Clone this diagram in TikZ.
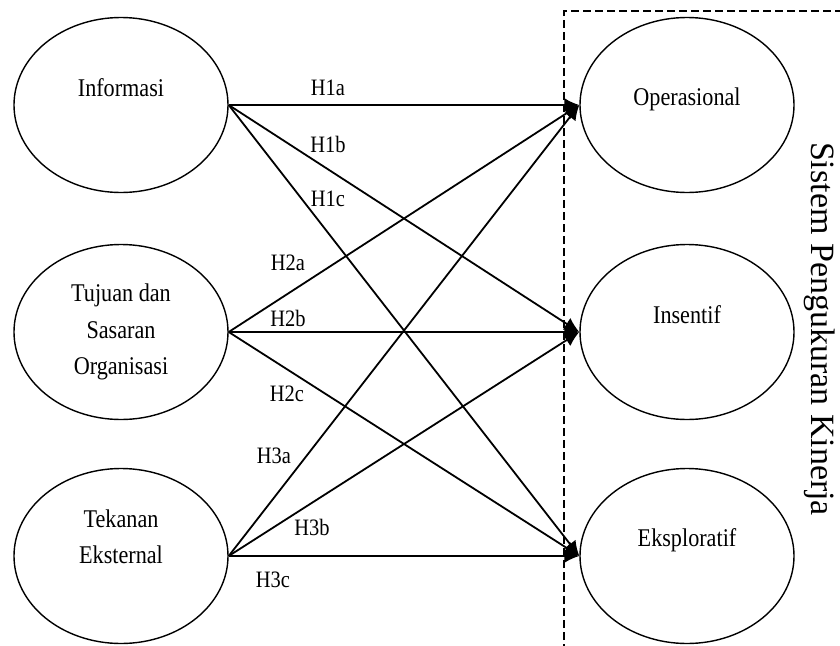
\documentclass[tikz,border=0pt]{standalone}
\usepackage{fontspec}
\setmainfont{Liberation Serif}
\newfontfamily\condfont[FakeStretch=0.87]{Liberation Serif}
\usetikzlibrary{shapes.geometric,arrows.meta}
\begin{document}
\begin{tikzpicture}[x=1pt,y=-1pt,
  oval/.style={draw, ellipse, line width=1.4pt, minimum width=214pt, minimum height=175pt, inner sep=0pt},
  etext/.style={font=\condfont\fontsize{25.5}{36.5}\selectfont, align=center, inner sep=0pt},
  hlabel/.style={font=\condfont\fontsize{23.5}{26}\selectfont, inner sep=0pt},
  link/.style={line width=1.8pt, -{Latex[length=15pt,width=14pt]}},
  frame/.style={line width=1.2pt, dash pattern=on 8pt off 4pt}]
\useasboundingbox (0,0) rectangle (840,645);
% dashed frame
\coordinate (fb) at (564,700);
\coordinate (fc) at (564,11);
\coordinate (fr) at (900,11);
\draw[frame] (fb) -- (fc) -- (fr);
% ellipses
\node[oval] (inf) at (121,105) {};
\node[oval] (tuj) at (121,332) {};
\node[oval] (tek) at (121,556) {};
\node[oval] (ope) at (687,105) {};
\node[oval] (ins) at (687,332) {};
\node[oval] (eks) at (687,556) {};
% texts
\node[etext] (tinf) at (121,88) {Informasi};
\node[etext] (ttuj) at (121,332) {Tujuan dan\\Sasaran\\Organisasi};
\node[etext] (ttek) at (121,537) {Tekanan\\Eksternal};
\node[etext] (tope) at (687,99) {Operasional};
\node[etext] (tins) at (687,315) {Insentif};
\node[etext] (teks) at (687,540) {Eksploratif};
% connectors
\draw[link] (inf.east) -- (ope.west);
\draw[link] (inf.east) -- (ins.west);
\draw[link] (inf.east) -- (eks.west);
\draw[link] (tuj.east) -- (ope.west);
\draw[link] (tuj.east) -- (ins.west);
\draw[link] (tuj.east) -- (eks.west);
\draw[link] (tek.east) -- (ope.west);
\draw[link] (tek.east) -- (ins.west);
\draw[link] (tek.east) -- (eks.west);
% labels
\node[hlabel] (h1a) at (328,88) {H1a};
\node[hlabel] (h1b) at (328,144) {H1b};
\node[hlabel] (h1c) at (328,199) {H1c};
\node[hlabel] (h2a) at (288,263) {H2a};
\node[hlabel] (h2b) at (288,318) {H2b};
\node[hlabel] (h2c) at (287,394) {H2c};
\node[hlabel] (h3a) at (274,456) {H3a};
\node[hlabel] (h3b) at (312,527) {H3b};
\node[hlabel] (h3c) at (273,580) {H3c};
% side title
\node[font=\fontsize{34}{40}\selectfont, rotate=-90, inner sep=0pt] (spk) at (820,329) {Sistem Pengukuran Kinerja};
\end{tikzpicture}
\end{document}
